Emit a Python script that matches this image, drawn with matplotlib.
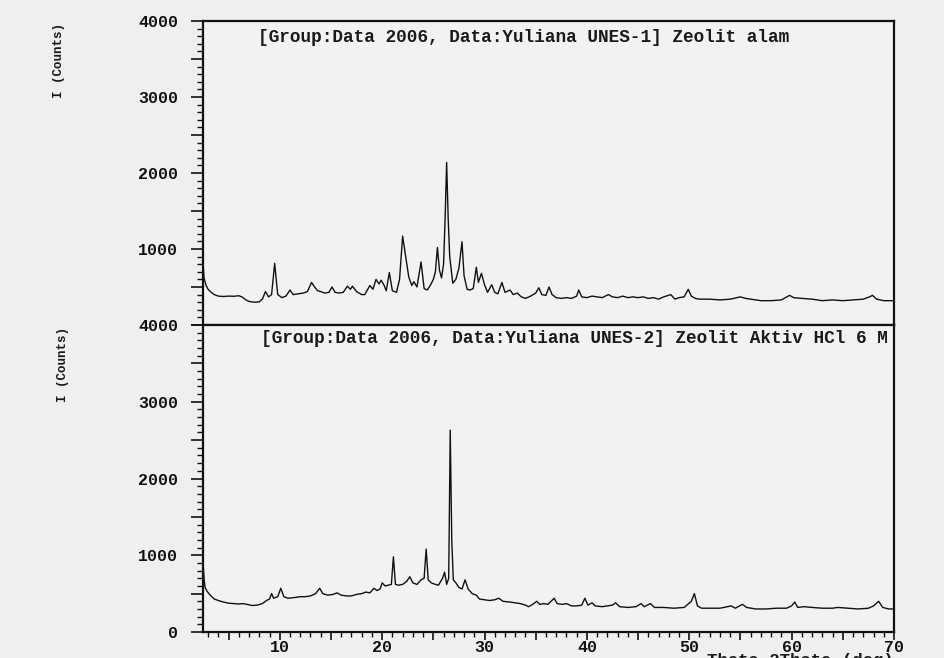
import matplotlib
matplotlib.use("Agg")
import matplotlib.pyplot as plt
from matplotlib.ticker import MultipleLocator, FuncFormatter

# ---- data (2theta in degrees, intensity in counts) ----
top_theta = [2.5, 2.6, 2.8, 3.0, 3.3, 3.6, 4.0, 4.5, 5.0, 5.5, 6.0, 6.3, 6.7, 7.0, 7.5, 8.0,
             8.3, 8.6, 8.9, 9.2, 9.5, 9.8, 10.2, 10.6, 11.0, 11.3, 11.8, 12.3, 12.7, 13.1,
             13.4, 13.7, 14.0, 14.4, 14.8, 15.1, 15.4, 15.8, 16.2, 16.6, 16.9, 17.1, 17.5,
             18.0, 18.3, 18.8, 19.1, 19.4, 19.7, 19.9, 20.2, 20.4, 20.7, 21.0, 21.4, 21.7,
             22.0, 22.3, 22.6, 22.9, 23.1, 23.4, 23.8, 24.1, 24.4, 24.7, 25.0, 25.2, 25.4,
             25.6, 25.8, 26.0, 26.15, 26.3, 26.45, 26.6, 26.9, 27.2, 27.5, 27.8, 28.0, 28.3,
             28.6, 28.9, 29.2, 29.4, 29.7, 30.0, 30.3, 30.7, 31.0, 31.3, 31.7, 32.0, 32.5,
             32.8, 33.2, 33.6, 34.0, 34.5, 35.0, 35.3, 35.6, 36.0, 36.3, 36.6, 37.0, 37.5,
             38.0, 38.5, 39.0, 39.2, 39.5, 40.0, 40.5, 41.0, 41.5, 42.1, 42.5, 43.0, 43.5,
             44.0, 44.5, 45.0, 45.5, 46.0, 46.5, 47.0, 47.5, 48.2, 48.6, 49.0, 49.5, 49.9,
             50.2, 50.6, 51.0, 52.0, 53.0, 54.0, 55.0, 55.5, 56.0, 57.0, 58.0, 59.0, 59.8,
             60.2, 61.0, 62.0, 63.0, 64.0, 65.0, 66.0, 67.0, 67.6, 67.9, 68.3, 69.0, 70.0]
top_counts = [820, 620, 520, 470, 430, 400, 380, 375, 380, 378, 385, 370, 330, 310, 300, 305,
              340, 440, 370, 400, 810, 400, 360, 380, 460, 400, 410, 420, 440, 560,
              500, 450, 440, 420, 430, 500, 430, 420, 430, 510, 470, 510, 440,
              400, 400, 520, 470, 600, 540, 590, 520, 450, 690, 450, 430, 600,
              1170, 900, 630, 520, 570, 500, 830, 480, 460, 520, 600, 700, 1020,
              720, 620, 800, 1400, 2140, 1400, 900, 550, 600, 750, 1095, 650, 470,
              460, 480, 760, 560, 680, 530, 430, 530, 430, 410, 560, 430, 460,
              400, 420, 370, 350, 380, 420, 490, 400, 390, 500, 400, 360, 350,
              360, 350, 380, 460, 370, 360, 380, 370, 360, 400, 370, 360, 380,
              360, 370, 360, 370, 350, 360, 340, 370, 400, 340, 360, 370, 470,
              380, 350, 340, 340, 330, 340, 370, 350, 340, 320, 320, 330, 390,
              360, 350, 340, 320, 330, 320, 330, 340, 370, 390, 340, 320, 320]

bot_theta = [2.5, 2.6, 2.7, 2.9, 3.2, 3.6, 4.0, 4.5, 5.0, 5.5, 6.0, 6.4, 6.8, 7.3, 7.8, 8.3,
             8.7, 9.0, 9.2, 9.4, 9.8, 10.1, 10.4, 10.8, 11.5, 12.0, 12.5, 13.0, 13.5, 13.9,
             14.2, 14.7, 15.2, 15.6, 16.0, 16.5, 17.0, 17.5, 18.0, 18.4, 18.8, 19.2, 19.5,
             19.8, 20.0, 20.3, 20.6, 20.9, 21.1, 21.3, 21.6, 22.0, 22.4, 22.7, 23.0, 23.4,
             23.8, 24.1, 24.3, 24.5, 24.8, 25.2, 25.5, 25.9, 26.1, 26.3, 26.5, 26.65, 26.8,
             26.95, 27.2, 27.5, 27.8, 28.1, 28.4, 28.8, 29.2, 29.5, 30.0, 30.5, 31.0, 31.4,
             31.8, 32.5, 33.0, 33.5, 34.0, 34.3, 34.7, 35.1, 35.4, 35.8, 36.2, 36.8, 37.1,
             37.6, 38.0, 38.5, 39.0, 39.5, 39.8, 40.1, 40.5, 40.8, 41.5, 42.0, 42.5, 42.8,
             43.2, 44.0, 44.8, 45.3, 45.6, 46.2, 46.6, 47.5, 48.5, 49.5, 50.2, 50.5, 50.8,
             51.2, 52.0, 53.0, 54.1, 54.5, 55.2, 55.6, 56.5, 57.5, 58.5, 59.5, 60.0, 60.3,
             60.6, 61.2, 62.0, 63.0, 64.0, 64.5, 65.5, 66.5, 67.5, 68.0, 68.5, 68.9, 69.5, 70.0]
bot_counts = [900, 700, 580, 530, 480, 430, 410, 390, 375, 370, 365, 370, 360, 345, 350, 370,
              410, 430, 500, 440, 460, 570, 460, 440, 450, 460, 460, 470, 500, 570,
              500, 480, 490, 510, 480, 470, 470, 490, 500, 520, 510, 570, 540,
              560, 640, 600, 610, 620, 980, 620, 610, 620, 660, 720, 640, 620,
              680, 700, 1080, 680, 640, 620, 610, 700, 780, 620, 700, 2630, 1200,
              680, 640, 580, 560, 680, 560, 500, 480, 430, 420, 410, 420, 440,
              400, 390, 380, 370, 350, 330, 360, 400, 360, 370, 360, 440, 370,
              360, 370, 340, 340, 350, 440, 350, 380, 340, 330, 340, 350, 380,
              330, 320, 330, 370, 330, 370, 320, 320, 310, 320, 400, 500, 340,
              310, 310, 310, 340, 310, 360, 320, 300, 300, 310, 310, 340, 390,
              320, 330, 320, 310, 310, 320, 310, 300, 310, 340, 400, 320, 300, 300]

top_title = "[Group:Data 2006, Data:Yuliana UNES-1] Zeolit alam"
bot_title = "[Group:Data 2006, Data:Yuliana UNES-2] Zeolit Aktiv HCl 6 M"
y_label = "I (Counts)"
x_label = "Theta-2Theta (deg)"

# ---- figure ----
paper = "#efefef"
fig = plt.figure(figsize=(9.44, 6.58), dpi=100, facecolor=paper)

W, H = 944.0, 658.0
left = 203 / W
right = 894 / W
ax_top = fig.add_axes([left, 1 - 325 / H, right - left, (325 - 21) / H])
ax_bot = fig.add_axes([left, 1 - 632 / H, right - left, (632 - 325) / H])

mono = "Liberation Mono"


def ylab(v, pos, hide_zero=False):
    if abs(v % 1000) > 1e-6:
        return ""
    if hide_zero and v == 0:
        return ""
    return f"{int(v)}"


def xlab(v, pos):
    if abs(v % 10) > 1e-6:
        return ""
    return f"{int(v)}"


for ax in (ax_top, ax_bot):
    ax.set_facecolor("#f2f2f2")
    ax.set_xlim(2.5, 70)
    ax.set_ylim(0, 4000)
    for s in ax.spines.values():
        s.set_linewidth(1.6)
        s.set_color("#111111")
    ax.yaxis.set_major_locator(MultipleLocator(500))
    ax.yaxis.set_minor_locator(MultipleLocator(100))
    ax.xaxis.set_major_locator(MultipleLocator(5))
    ax.xaxis.set_minor_locator(MultipleLocator(1))
    ax.tick_params(axis="y", which="major", direction="out", length=9, width=1.2,
                   pad=9, labelsize=12, colors="#111111")
    ax.tick_params(axis="y", which="minor", direction="out", length=4.5, width=1.0,
                   colors="#111111")

ax_top.plot(top_theta, top_counts, color="#111111", lw=1.0)
ax_bot.plot(bot_theta, bot_counts, color="#111111", lw=1.0)

ax_top.yaxis.set_major_formatter(FuncFormatter(lambda v, p: ylab(v, p, hide_zero=True)))
ax_bot.yaxis.set_major_formatter(FuncFormatter(lambda v, p: ylab(v, p)))
ax_top.tick_params(axis="x", which="both", bottom=False, labelbottom=False)
ax_bot.xaxis.set_major_formatter(FuncFormatter(xlab))
ax_bot.tick_params(axis="x", which="major", direction="out", length=6, width=1.2,
                   pad=0, labelsize=12, colors="#111111")
ax_bot.tick_params(axis="x", which="minor", direction="out", length=3.5, width=1.0,
                   colors="#111111")

for ax in (ax_top, ax_bot):
    for lbl in ax.get_yticklabels() + ax.get_xticklabels():
        lbl.set_fontfamily(mono)
        lbl.set_fontweight("bold")

ax_top.text((258 - 203) / (894 - 203), 0.975, top_title, transform=ax_top.transAxes,
            ha="left", va="top", fontsize=12.8, family=mono, fontweight="bold",
            color="#1a1a1a")
ax_bot.text((888 - 203) / (894 - 203), 0.985, bot_title, transform=ax_bot.transAxes,
            ha="right", va="top", fontsize=12.8, family=mono, fontweight="bold",
            color="#1a1a1a")

fig.text(59 / W, 1 - 60 / H, y_label, rotation=90, ha="center", va="center",
         fontsize=9, family=mono, fontweight="bold", color="#1a1a1a")
fig.text(63 / W, 1 - 365 / H, y_label, rotation=90, ha="center", va="center",
         fontsize=9, family=mono, fontweight="bold", color="#1a1a1a")
fig.text(707 / W, 1 - 653 / H, x_label, ha="left", va="top",
         fontsize=12.5, family=mono, fontweight="bold", color="#1a1a1a")

fig.savefig("out.png", dpi=100, facecolor=paper)
